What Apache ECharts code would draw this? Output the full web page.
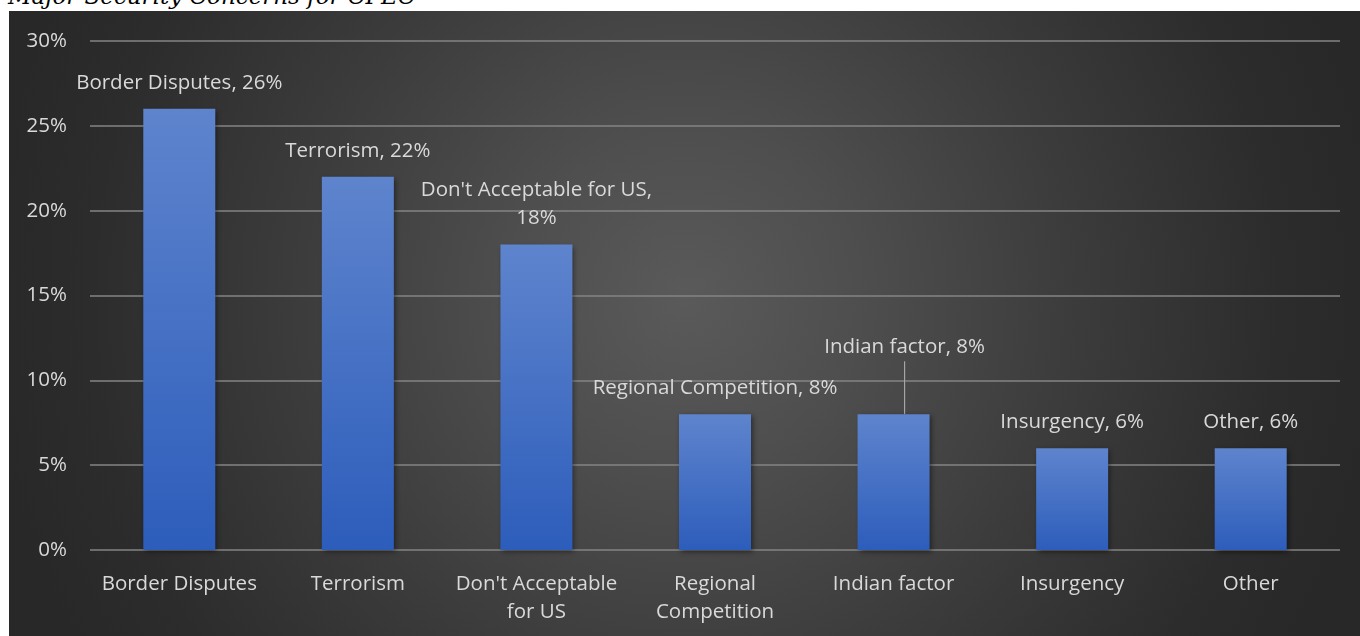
<!DOCTYPE html>
<html>
<head>
<meta charset="utf-8">
<script src="https://cdn.jsdelivr.net/npm/echarts@6/dist/echarts.min.js"></script>
<style>
  html, body { margin: 0; padding: 0; background: #ffffff; width: 1360px; height: 636px; overflow: hidden; position: relative; }
  #title {
    position: absolute; left: 8px; top: -19px; line-height: 30px;
    font-family: "DejaVu Serif", "Liberation Serif", serif; font-style: italic;
    font-size: 23px; color: #000; white-space: nowrap;
  }
  #panel {
    position: absolute; left: 9px; top: 11px; width: 1351px; height: 625px;
    background: radial-gradient(circle 700px at 50% 46%, #5a5a5a 0%, #4e4e4e 25%, #3c3c3c 55%, #2c2c2c 85%, #282828 100%);
  }
  #chart { width: 100%; height: 100%; }
</style>
</head>
<body>
<div id="title">Major Security Concerns for CPEC</div>
<div id="panel"><div id="chart"></div></div>
<script>
// Survey responses: major security concerns for CPEC (share of respondents, %)
const categories = ["Border Disputes", "Terrorism", "Don't Acceptable for US", "Regional Competition", "Indian factor", "Insurgency", "Other"];
const tickLabels = ["Border Disputes", "Terrorism", "Don't Acceptable\nfor US", "Regional\nCompetition", "Indian factor", "Insurgency", "Other"];
const shares = [26, 22, 18, 8, 8, 6, 6];
const yTicks = [0, 5, 10, 15, 20, 25, 30];

const textColor = '#d9d9d9';
const font = '"Open Sans", "Noto Sans", sans-serif';
const fontSize = 20.5;

// the "Indian factor" label is lifted above its bar and tied back with a leader line
const liftedIndex = 4;
const barData = shares.map((v, i) => i === liftedIndex
  ? { value: v, labelLine: { show: true, lineStyle: { color: '#a6a6a6', width: 1.2 } } }
  : { value: v });

const chart = echarts.init(document.getElementById('chart'), null, { renderer: 'canvas' });
chart.setOption({
  backgroundColor: 'transparent',
  animation: false,
  grid: { left: 81, right: 20, top: 30, bottom: 86, containLabel: false },
  xAxis: {
    type: 'category',
    data: categories,
    axisLine: { show: false },
    axisTick: { show: false },
    axisLabel: {
      color: textColor, fontSize: fontSize, fontFamily: font, margin: 20, lineHeight: 28,
      interval: 0,
      formatter: (v, i) => tickLabels[i]
    }
  },
  yAxis: {
    type: 'value',
    min: yTicks[0], max: yTicks[yTicks.length - 1], interval: 5,
    axisLine: { show: false },
    axisTick: { show: false },
    axisLabel: { color: textColor, fontSize: fontSize, fontFamily: font, margin: 23, formatter: '{value}%' },
    splitLine: { lineStyle: { color: '#858585', width: 1.5 } }
  },
  series: [{
    type: 'bar',
    data: barData,
    barWidth: 72,
    itemStyle: {
      color: new echarts.graphic.LinearGradient(0, 0, 0, 1, [
        { offset: 0, color: '#5e84cd' },
        { offset: 1, color: '#2d5dbb' }
      ]),
      shadowColor: 'rgba(0,0,0,0.45)', shadowBlur: 5, shadowOffsetX: 2, shadowOffsetY: 2
    },
    label: {
      show: true, position: 'top', distance: 12,
      color: textColor, fontSize: fontSize, fontFamily: font, lineHeight: 28,
      formatter: p => p.dataIndex === 2 ? p.name + ',\n' + p.value + '%' : p.name + ', ' + p.value + '%'
    },
    labelLine: { show: false },
    labelLayout: p => p.dataIndex === liftedIndex ? { dx: 11, dy: -41 } : {}
  }]
});
</script>
</body>
</html>
